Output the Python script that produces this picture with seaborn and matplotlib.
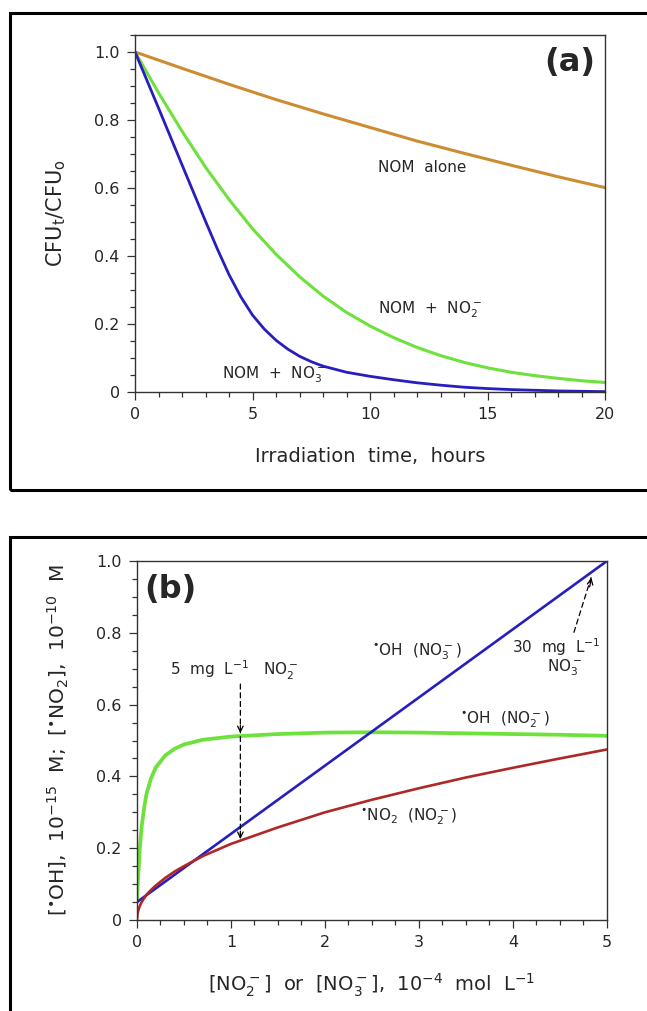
import matplotlib
matplotlib.use("Agg")
import matplotlib.pyplot as plt
from matplotlib.patches import Rectangle
from matplotlib.ticker import MultipleLocator, FuncFormatter
import seaborn as sns

# ---- panel (a) data: CFUt/CFUo vs irradiation time (h)
t_hours = list(range(0, 21))
nom_alone_t = [0, 2, 4, 6, 8, 10, 12, 14, 16, 18, 20]
nom_alone = [1.0, 0.952, 0.905, 0.86, 0.818, 0.778, 0.738, 0.702, 0.667, 0.633, 0.601]
nom_no2 = [1.0, 0.88, 0.767, 0.661, 0.566, 0.48, 0.405, 0.339, 0.282, 0.234, 0.194,
           0.160, 0.131, 0.107, 0.087, 0.071, 0.058, 0.048, 0.040, 0.033, 0.028]
no3_t = [0, 1, 2, 3, 3.5, 4, 4.5, 5, 5.5, 6, 6.5, 7, 7.5, 8, 9, 10, 11, 12, 13, 14,
         15, 16, 17, 18, 19, 20]
nom_no3 = [1.0, 0.835, 0.668, 0.502, 0.421, 0.345, 0.280, 0.226, 0.185, 0.152, 0.126,
           0.105, 0.089, 0.076, 0.058, 0.046, 0.036, 0.027, 0.020, 0.014, 0.010, 0.007,
           0.005, 0.003, 0.002, 0.001]

# ---- panel (b) data: steady-state radicals vs [NO2-] or [NO3-] (1e-4 M)
conc_b = [0, 0.005, 0.01, 0.02, 0.03, 0.05, 0.075, 0.1, 0.15, 0.2, 0.3, 0.4, 0.5,
          0.7, 1.0, 1.5, 2.0, 2.5, 3.0, 3.5, 4.0, 4.5, 5.0]
oh_no2 = [0.05, 0.08, 0.11, 0.15, 0.20, 0.26, 0.31, 0.35, 0.395, 0.425, 0.458, 0.477,
          0.489, 0.502, 0.511, 0.518, 0.522, 0.523, 0.522, 0.520, 0.518, 0.516, 0.513]
no2_no2 = [0.0, 0.015, 0.022, 0.032, 0.039, 0.05, 0.06, 0.07, 0.084, 0.096, 0.117, 0.135,
           0.15, 0.178, 0.212, 0.258, 0.300, 0.335, 0.367, 0.397, 0.424, 0.45, 0.475]
conc_no3 = [0, 1, 2, 3, 4, 5]
oh_no3 = [0.05, 0.24, 0.43, 0.62, 0.81, 1.0]

c_orange = "#CD8C32"
c_green = "#6EE13C"
c_blue = "#281EBE"
c_red = "#AF2828"

sns.set_style("ticks")
plt.rcParams["font.family"] = ["DejaVu Sans"]
plt.rcParams["mathtext.fontset"] = "dejavusans"
plt.rcParams["mathtext.default"] = "regular"

fig = plt.figure(figsize=(6.47, 10.11), dpi=100)

# outer frames
fig.patches.append(Rectangle((0.0155, 0.5153), 1.05, 0.4718, transform=fig.transFigure,
                             fill=False, lw=2.2, ec="black", clip_on=False))
fig.patches.append(Rectangle((0.0155, -0.05), 1.05, 0.5188, transform=fig.transFigure,
                             fill=False, lw=2.2, ec="black", clip_on=False))

ax1 = fig.add_axes([0.2087, 0.6123, 0.7265, 0.3531])
ax2 = fig.add_axes([0.2117, 0.0900, 0.7264, 0.3551])


def fmt(v, pos):
    if abs(v) < 1e-9:
        return "0"
    if float(v).is_integer():
        return "%d" % v
    return "%.1f" % v


for ax in (ax1, ax2):
    for sp in ax.spines.values():
        sp.set_visible(True)
        sp.set_color("#333333")
        sp.set_linewidth(1.0)
    ax.tick_params(which="major", direction="out", length=6, width=0.9,
                   labelsize=11.5, color="#333333", pad=5)
    ax.tick_params(which="minor", direction="out", length=3.5, width=0.9, color="#333333")
    ax.tick_params(top=False, right=False)
    ax.yaxis.set_major_formatter(FuncFormatter(fmt))
    ax.xaxis.set_major_formatter(FuncFormatter(fmt))

# radical dot
dot = "$^{\\mathbf{\u2022}}$"

# ---- panel (a)
sns.lineplot(x=nom_alone_t, y=nom_alone, color=c_orange, lw=2.2, ax=ax1)
sns.lineplot(x=t_hours, y=nom_no2, color=c_green, lw=2.2, ax=ax1)
sns.lineplot(x=no3_t, y=nom_no3, color=c_blue, lw=2.0, ax=ax1)
ax1.set_xlim(0, 20)
ax1.set_ylim(0, 1.05)
ax1.xaxis.set_major_locator(MultipleLocator(5))
ax1.xaxis.set_minor_locator(MultipleLocator(1))
ax1.yaxis.set_major_locator(MultipleLocator(0.2))
ax1.yaxis.set_minor_locator(MultipleLocator(0.05))
ax1.set_xlabel("Irradiation  time,  hours", fontsize=14)
ax1.set_ylabel(r"CFU$_t$/CFU$_o$", fontsize=15)
ax1.xaxis.set_label_coords(0.5, -0.182)
ax1.xaxis.label.set_va("center")
ax1.yaxis.set_label_coords(-0.168, 0.5)
ax1.yaxis.label.set_va("center")

ax1.text(18.5, 0.97, "(a)", fontsize=23, fontweight="bold", ha="center", va="center")
ax1.text(10.34, 0.659, "NOM  alone", fontsize=11, va="center")
ax1.text(10.34, 0.241, r"NOM  +  NO$_2^-$", fontsize=11, va="center")
ax1.text(3.7, 0.05, r"NOM  +  NO$_3^-$", fontsize=11, va="center")

# ---- panel (b)
sns.lineplot(x=conc_b, y=oh_no2, color=c_green, lw=2.7, ax=ax2)
sns.lineplot(x=conc_no3, y=oh_no3, color=c_blue, lw=1.9, ax=ax2)
sns.lineplot(x=conc_b, y=no2_no2, color=c_red, lw=1.9, ax=ax2)
ax2.set_xlim(0, 5)
ax2.set_ylim(0, 1.0)
ax2.xaxis.set_major_locator(MultipleLocator(1))
ax2.xaxis.set_minor_locator(MultipleLocator(0.25))
ax2.yaxis.set_major_locator(MultipleLocator(0.2))
ax2.yaxis.set_minor_locator(MultipleLocator(0.05))
ax2.set_xlabel(r"[NO$_2^-$]  or  [NO$_3^-$],  10$^{-4}$  mol  L$^{-1}$", fontsize=14)
ax2.set_ylabel("[" + dot + r"OH],  10$^{-15}$  M;  [" + dot + r"NO$_2$],  10$^{-10}$  M",
               fontsize=14.5)
ax2.xaxis.set_label_coords(0.5, -0.181)
ax2.xaxis.label.set_va("center")
ax2.yaxis.set_label_coords(-0.168, 0.5)
ax2.yaxis.label.set_va("center")

ax2.text(0.36, 0.92, "(b)", fontsize=23, fontweight="bold", ha="center", va="center")
ax2.text(0.35, 0.696, r"5  mg  L$^{-1}$   NO$_2^-$", fontsize=11, va="center")
ax2.text(2.5, 0.746, dot + r"OH  (NO$_3^-$)", fontsize=11, va="center")
ax2.text(3.44, 0.557, dot + r"OH  (NO$_2^-$)", fontsize=11, va="center")
ax2.text(2.37, 0.287, dot + r"NO$_2$  (NO$_2^-$)", fontsize=11, va="center")
ax2.text(3.99, 0.760, r"30  mg  L$^{-1}$", fontsize=11, va="center")
ax2.text(4.36, 0.702, r"NO$_3^-$", fontsize=11, va="center")

dash = dict(arrowstyle="-", lw=0.9, color="black", linestyle=(0, (4, 3)))
head = dict(arrowstyle="->", lw=0.9, color="black", mutation_scale=10)
ax2.annotate("", xy=(1.1, 0.215), xytext=(1.1, 0.665), arrowprops=dash)
ax2.annotate("", xy=(1.1, 0.513), xytext=(1.1, 0.55), arrowprops=head)
ax2.annotate("", xy=(1.1, 0.218), xytext=(1.1, 0.255), arrowprops=head)
ax2.annotate("", xy=(4.84, 0.961), xytext=(4.64, 0.794), arrowprops=dash)
ax2.annotate("", xy=(4.84, 0.961), xytext=(4.81, 0.92), arrowprops=head)

fig.savefig("out.png", dpi=100)
